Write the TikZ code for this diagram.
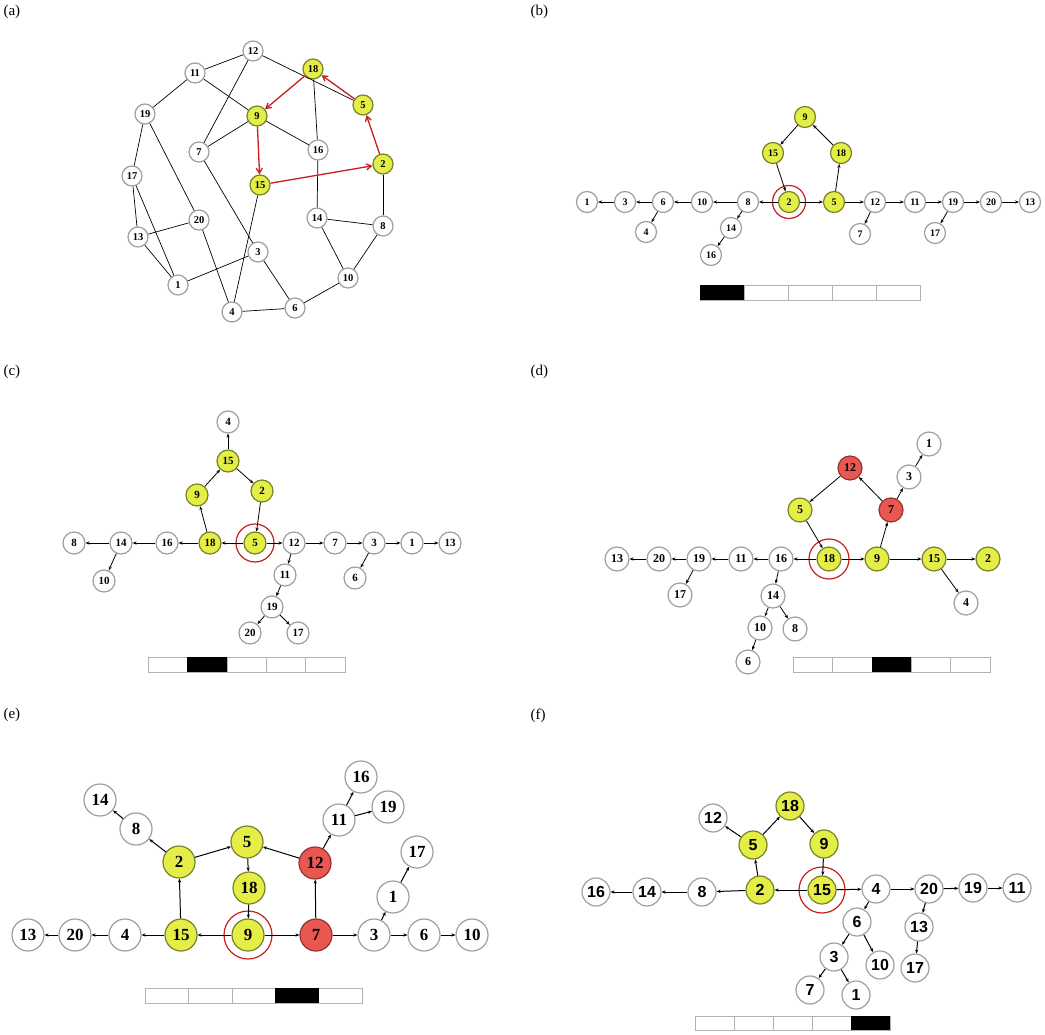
\documentclass[tikz,border=0pt]{standalone}
\usepackage{fontspec}
\setmainfont{Liberation Serif}
\newfontfamily\labsans{Liberation Sans}
\usetikzlibrary{arrows.meta}
\definecolor{yfill}{RGB}{228,238,70}
\definecolor{yedge}{RGB}{120,130,40}
\definecolor{rfill}{RGB}{232,88,80}
\definecolor{redge}{RGB}{150,50,45}
\definecolor{cyc}{RGB}{200,30,30}
\tikzset{
  vtx/.style={circle, draw=gray!75, line width=1.2pt, fill=white, inner sep=0pt, font=\bfseries},
  yv/.style={fill=yfill, draw=yedge},
  rv/.style={fill=rfill, draw=redge},
  arc/.style={-{Stealth[length=4pt,width=3.2pt]}, line width=0.8pt},
  root/.style={circle, draw=cyc, fill=none, line width=1.2pt, inner sep=0pt},
  cell/.style={draw=gray!60, line width=0.6pt},
  plab/.style={font=\fontsize{15}{15}\selectfont, anchor=north west}
}
\begin{document}
\begin{tikzpicture}[x=1pt,y=-1pt]
\useasboundingbox (0,0) rectangle (1045,1035);

% panel labels
\node[plab] (la) at (0,2) {(a)};
\node[plab] (lb) at (527,2) {(b)};
\node[plab] (lc) at (0,362) {(c)};
\node[plab] (ld) at (527,362) {(d)};
\node[plab] (le) at (0,705) {(e)};
\node[plab] (lf) at (527,705) {(f)};

%% (a) original graph
\begin{scope}[every node/.style={vtx, minimum size=20pt, font=\bfseries\fontsize{10.5}{10.5}\selectfont}]
\foreach \n/\x/\y in {12/253/51, 11/195/73, 19/145/114, 7/199/152, 16/318/150,
  17/132/176, 20/199/220, 14/317/218, 8/383/226, 13/138/237, 3/258/252,
  1/178/285, 10/348/278, 4/232/312, 6/295/308}
  \node (a\n) at (\x,\y) {\n};
\foreach \n/\x/\y in {18/313/69, 9/257/116, 5/363/105, 2/383/164, 15/260/185}
  \node[yv] (a\n) at (\x,\y) {\n};
\end{scope}
\foreach \p/\q in {12/11, 12/7, 12/5, 11/19, 11/9, 18/16, 9/7, 9/16, 16/14, 19/17,
  19/20, 17/13, 17/1, 13/20, 13/1, 7/3, 15/4, 20/4, 3/1, 3/6, 4/6, 6/10, 10/8,
  10/14, 14/8, 8/2}
  \draw[line width=0.7pt] (a\p) -- (a\q);
\foreach \p/\q in {2/5, 5/18, 18/9, 9/15, 15/2}
  \draw[-{Straight Barb[length=5pt,width=6pt]}, draw=cyc, line width=1.3pt] (a\p) -- (a\q);

%% (b) root 2
\begin{scope}[every node/.style={vtx, minimum size=21pt, font=\bfseries\fontsize{10}{10}\selectfont}]
\foreach \n/\x/\y in {8/748/202, 10/702/202, 6/663/202, 3/625/202, 1/587/202,
  4/646/232, 14/731/228, 16/711/255, 12/875/202, 11/915/202, 7/860/234,
  19/953/202, 20/991/202, 13/1030/202, 17/935/233}
  \node (b\n) at (\x,\y) {\n};
\foreach \n/\x/\y in {9/805/117, 15/773/153, 18/841/153, 2/789/202, 5/834/202}
  \node[yv] (b\n) at (\x,\y) {\n};
\node[root, minimum size=33pt] (broot) at (b2) {};
\end{scope}
\foreach \p/\q in {2/5, 5/18, 18/9, 9/15, 15/2, 2/8, 8/10, 10/6, 6/3, 3/1, 6/4,
  8/14, 14/16, 5/12, 12/11, 12/7, 11/19, 19/20, 20/13, 19/17}
  \draw[arc] (b\p) -- (b\q);
\foreach \i in {0,...,4}
  \draw[cell] (700+\i*44,285) rectangle ++(44,15);
\fill (700,285) rectangle ++(44,15);

%% (c) root 5
\begin{scope}[every node/.style={vtx, minimum size=22pt, font=\bfseries\fontsize{11}{11}\selectfont}]
\foreach \n/\x/\y in {4/228/422, 16/167/543, 14/121/543, 8/74/543, 10/104/581,
  12/294/543, 7/335/543, 3/374/543, 1/412/543, 13/450/543, 6/355/578,
  11/285/575, 19/272/607, 20/250/633, 17/298/633}
  \node (c\n) at (\x,\y) {\n};
\foreach \n/\x/\y in {15/228/461, 9/197/495, 2/262/491, 18/210/543, 5/255/543}
  \node[yv] (c\n) at (\x,\y) {\n};
\node[root, minimum size=38pt] (croot) at (c5) {};
\end{scope}
\foreach \p/\q in {15/4, 9/15, 15/2, 2/5, 18/9, 5/18, 18/16, 16/14, 14/8, 14/10,
  5/12, 12/7, 7/3, 3/1, 1/13, 3/6, 12/11, 11/19, 19/20, 19/17}
  \draw[arc] (c\p) -- (c\q);
\foreach \i in {0,...,4}
  \draw[cell] (148+\i*39.4,657) rectangle ++(39.4,15);
\fill (187.4,657) rectangle ++(39.4,15);

%% (d) root 18
\begin{scope}[every node/.style={vtx, minimum size=24pt, font=\bfseries\fontsize{12}{12}\selectfont}]
\foreach \n/\x/\y in {1/929/444, 3/909/477, 13/617/559, 20/659/559, 19/699/559,
  11/741/559, 16/781/559, 17/680/595, 14/773/596, 4/966/603, 10/760/628,
  8/795/629, 6/748/662}
  \node (d\n) at (\x,\y) {\n};
\foreach \n/\x/\y in {5/800/510, 18/829/559, 9/877/559, 15/934/559, 2/988/559}
  \node[yv] (d\n) at (\x,\y) {\n};
\foreach \n/\x/\y in {12/850/468, 7/891/510}
  \node[rv] (d\n) at (\x,\y) {\n};
\node[root, minimum size=40pt] (droot) at (d18) {};
\end{scope}
\foreach \p/\q in {18/9, 9/7, 7/12, 12/5, 5/18, 7/3, 3/1, 9/15, 15/2, 15/4, 18/16,
  16/11, 11/19, 19/20, 20/13, 19/17, 16/14, 14/10, 14/8, 10/6}
  \draw[arc] (d\p) -- (d\q);
\foreach \i in {0,...,4}
  \draw[cell] (793+\i*39.4,657) rectangle ++(39.4,15);
\fill (871.8,657) rectangle ++(39.4,15);

%% (e) root 9
\begin{scope}[every node/.style={vtx, minimum size=32pt, font=\bfseries\fontsize{17}{17}\selectfont}]
\foreach \n/\x/\y in {14/100/800, 16/361/777, 19/388/807, 11/339/820, 8/136/829,
  17/417/852, 1/393/897, 13/28/935, 20/75/935, 4/125/935, 3/374/935,
  6/424/935, 10/472/935}
  \node (e\n) at (\x,\y) {\n};
\foreach \n/\x/\y in {5/247/842, 2/179/862, 18/249/888, 15/181/935, 9/248/935}
  \node[yv] (e\n) at (\x,\y) {\n};
\foreach \n/\x/\y in {12/315/863, 7/316/935}
  \node[rv] (e\n) at (\x,\y) {\n};
\node[root, minimum size=48pt] (eroot) at (e9) {};
\end{scope}
\foreach \p/\q in {9/15, 15/2, 2/5, 5/18, 18/9, 9/7, 7/12, 12/5, 2/8, 8/14, 12/11,
  11/16, 11/19, 7/3, 3/1, 1/17, 3/6, 6/10, 15/4, 4/20, 20/13}
  \draw[arc, line width=1pt] (e\p) -- (e\q);
\foreach \i in {0,...,4}
  \draw[cell] (145+\i*43.4,988) rectangle ++(43.4,15);
\fill (275.2,988) rectangle ++(43.4,15);

%% (f) root 15
\begin{scope}[every node/.style={vtx, minimum size=28pt, font=\labsans\bfseries\fontsize{16}{16}\selectfont}]
\foreach \n/\x/\y in {12/713/818, 16/596/892, 14/647/892, 8/702/892, 4/876/889,
  20/929/889, 19/973/888, 11/1017/888, 6/857/922, 13/919/927, 3/834/957,
  10/880/965, 17/915/968, 7/810/990, 1/856/995}
  \node (f\n) at (\x,\y) {\n};
\foreach \n/\x/\y in {18/790/806, 5/753/845, 9/824/844, 2/760/890, 15/822/890}
  \node[yv] (f\n) at (\x,\y) {\n};
\node[root, minimum size=46pt] (froot) at (f15) {};
\end{scope}
\foreach \p/\q in {15/2, 2/5, 5/18, 18/9, 9/15, 5/12, 2/8, 8/14, 14/16, 15/4, 4/20,
  20/19, 19/11, 4/6, 6/3, 6/10, 3/7, 3/1, 20/13, 13/17}
  \draw[arc, line width=1pt] (f\p) -- (f\q);
\foreach \i in {0,...,4}
  \draw[cell] (695+\i*39,1016) rectangle ++(39,14);
\fill (851,1016) rectangle ++(39,14);

\end{tikzpicture}
\end{document}
